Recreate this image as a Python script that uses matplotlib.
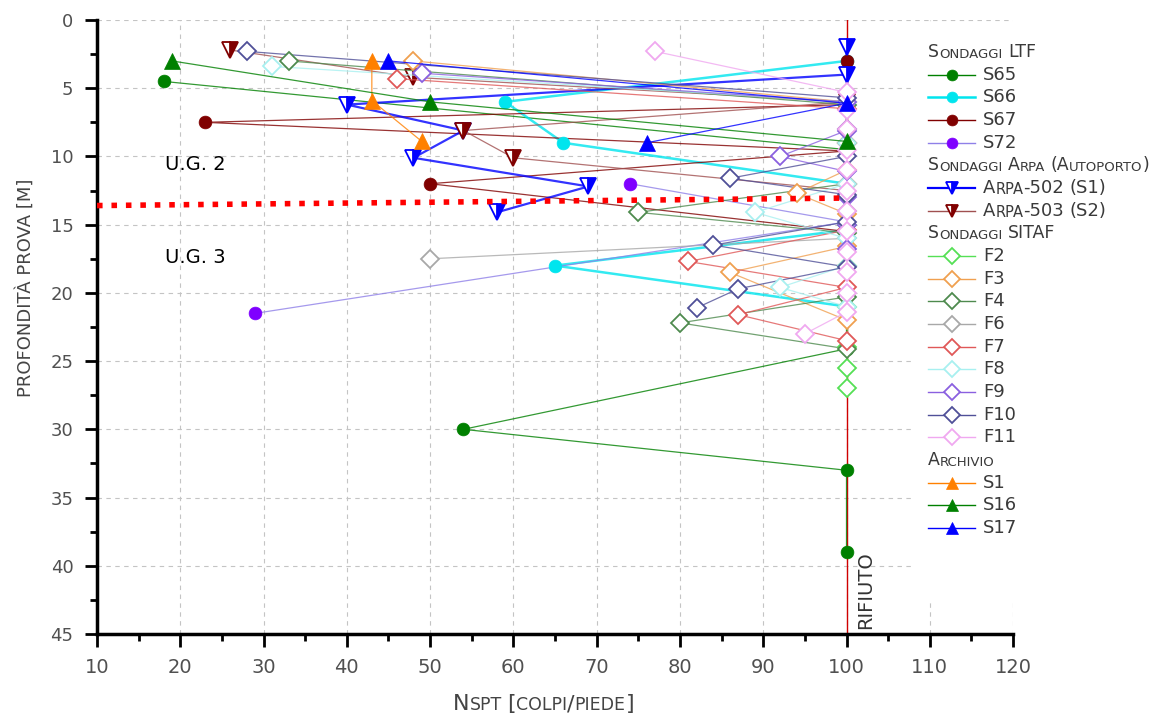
import matplotlib
matplotlib.use("Agg")
import matplotlib.pyplot as plt
from matplotlib.lines import Line2D
from matplotlib.patches import Rectangle
from matplotlib.text import Annotation
from matplotlib.ticker import MultipleLocator

plt.rcParams['font.family'] = ['DejaVu Sans']

# --- data: NSPT [colpi/piede] vs depth [m] ---
# Sondaggi LTF
s65_n = [18, 100, 100, 100, 100, 100, 100, 54, 100, 100]
s65_d = [4.5, 9.5, 12, 15, 18, 21, 24.1, 30, 33, 39]
s66_n = [100, 59, 66, 100, 100, 65, 100]
s66_d = [3, 6, 9, 12, 15.4, 18, 21]
s67_n = [100, 100, 23, 100, 50, 100]
s67_d = [3, 6.2, 7.5, 9.6, 12, 15.5]
s72_n = [74, 100, 29]
s72_d = [12, 14.8, 21.5]

# Sondaggi Arpa (Autoporto)
arpa502_n = [100, 100, 40, 54, 48, 69, 58]
arpa502_d = [2, 4, 6.2, 8.1, 10.1, 12.2, 14.1]
arpa503_n = [26, 48, 100, 54, 60, 100]
arpa503_d = [2.2, 4.2, 6, 8.1, 10.1, 12.5]

# Sondaggi SITAF
f2_n = [100, 100, 100, 100, 100, 100, 100]
f2_d = [12, 15, 18, 21, 24, 25.5, 27]
f3_n = [48, 100, 100, 100, 94, 100, 100, 86, 100]
f3_d = [3, 6, 9, 11, 12.7, 14.2, 16.6, 18.5, 22]
f4_n = [33, 100, 100, 100, 75, 100, 100, 100, 80, 100]
f4_d = [3, 6.2, 9, 12, 14.1, 15.6, 18, 20.3, 22.2, 24.1]
f6_n = [100, 100, 100, 100, 100, 50]
f6_d = [6, 9, 12, 14, 16, 17.5]
f7_n = [46, 100, 100, 100, 100, 81, 100, 87, 100]
f7_d = [4.3, 6.5, 9, 12, 15.4, 17.7, 19.6, 21.6, 23.5]
f8_n = [31, 100, 100, 100, 89, 100, 100, 92, 100]
f8_d = [3.4, 6, 9, 12, 14.1, 16, 18, 19.6, 21]
f9_n = [49, 100, 100, 92, 100, 100, 100, 100]
f9_d = [3.9, 6, 8.1, 10, 11.1, 13, 15, 16.8]
f10_n = [28, 100, 100, 100, 86, 100, 100, 84, 100, 87, 82]
f10_d = [2.3, 5.7, 8, 10, 11.6, 12.8, 14.8, 16.5, 18.1, 19.7, 21.1]
f11_n = [77, 100, 100, 100, 100, 100, 100, 100, 100, 100, 100, 100, 100, 95]
f11_d = [2.3, 5.3, 6.6, 8, 9.5, 11, 12.5, 14, 15.5, 17, 18.5, 20, 21.4, 23]

# Archivio
s1_n = [43, 43, 49]
s1_d = [3, 5.9, 8.9]
s16_n = [19, 50, 100]
s16_d = [3, 6, 8.9]
s17_n = [45, 100, 76]
s17_d = [3, 6.1, 9]

# refusal line and unit boundary
rifiuto_n = 100
ug_boundary_n = [10, 100]
ug_boundary_d = [13.6, 13.05]

groups = [
    ("Sondaggi LTF", [
        ("S65", s65_n, s65_d, dict(color='#008000', marker='o', lw=0.9, z=3)),
        ("S66", s66_n, s66_d, dict(color='#00E5EE', marker='o', lw=1.8, z=3)),
        ("S67", s67_n, s67_d, dict(color='#800000', marker='o', lw=0.9, z=3)),
        ("S72", s72_n, s72_d, dict(color='#7F00FF', marker='o', lw=0.9, z=3, lc='#8f80e8')),
    ]),
    ("Sondaggi Arpa (Autoporto)", [
        ("Arpa-502 (S1)", arpa502_n, arpa502_d, dict(color='#0000FF', marker='v', lw=1.6, z=3, half=True)),
        ("Arpa-503 (S2)", arpa503_n, arpa503_d, dict(color='#800000', marker='v', lw=0.9, z=3, half=True, lc='#a05050')),
    ]),
    ("Sondaggi SITAF", [
        ("F2", f2_n, f2_d, dict(color='#55E055', marker='D', lw=0.9, z=4)),
        ("F3", f3_n, f3_d, dict(color='#F0A050', marker='D', lw=0.9, z=4)),
        ("F4", f4_n, f4_d, dict(color='#4E8A4E', marker='D', lw=0.9, z=4)),
        ("F6", f6_n, f6_d, dict(color='#A8A8A8', marker='D', lw=0.9, z=4)),
        ("F7", f7_n, f7_d, dict(color='#E05858', marker='D', lw=0.9, z=4)),
        ("F8", f8_n, f8_d, dict(color='#A8F0F0', marker='D', lw=0.9, z=4)),
        ("F9", f9_n, f9_d, dict(color='#8A60E0', marker='D', lw=0.9, z=4)),
        ("F10", f10_n, f10_d, dict(color='#505098', marker='D', lw=0.9, z=4)),
        ("F11", f11_n, f11_d, dict(color='#F0A8F0', marker='D', lw=0.9, z=4)),
    ]),
    ("Archivio", [
        ("S1", s1_n, s1_d, dict(color='#FF8000', marker='^', lw=0.9, z=5)),
        ("S16", s16_n, s16_d, dict(color='#008000', marker='^', lw=0.9, z=5)),
        ("S17", s17_n, s17_d, dict(color='#0000FF', marker='^', lw=0.9, z=5)),
    ]),
]


def marker_kw(st, scale=1.0):
    kw = dict(marker=st['marker'], markeredgecolor=st['color'])
    if st['marker'] == 'D':
        kw.update(markerfacecolor='white', markeredgewidth=1.3, markersize=9 * scale)
    elif st.get('half'):
        kw.update(markerfacecolor=st['color'], fillstyle='right', markersize=11 * scale,
                  markerfacecoloralt='white', markeredgewidth=1.3)
    elif st['marker'] == '^':
        kw.update(markerfacecolor=st['color'], markeredgewidth=0.5, markersize=11 * scale)
    else:
        kw.update(markerfacecolor=st['color'], markeredgewidth=0.5, markersize=9.2 * scale)
    return kw


def smallcaps(fig, x, y, text, big, small, color='#3a3a3a'):
    prev = None
    for wi, word in enumerate(text.split(' ')):
        runs = []
        for c in word:
            low = c.islower()
            if runs and runs[-1][0] == low:
                runs[-1][1] += c
            else:
                runs.append([low, c])
        for ri, (low, chunk) in enumerate(runs):
            size = small if low else big
            gap = 4 if (ri == 0 and wi > 0) else 0
            if prev is None:
                t = fig.text(x, y, chunk.upper(), fontsize=size, va='bottom',
                             ha='left', color=color, zorder=6)
            else:
                t = Annotation(chunk.upper(), xy=(1, 0), xycoords=prev,
                               xytext=(gap, 0), textcoords='offset points',
                               fontsize=size, va='bottom', ha='left',
                               color=color, zorder=6)
                fig.add_artist(t)
            prev = t


fig = plt.figure(figsize=(11.69, 7.17), dpi=100)
ax = fig.add_axes([0.083, 0.1158, 0.7836, 0.8563])

ax.axvline(rifiuto_n, color='#D00000', lw=1.0, zorder=2.5)

for title, members in groups:
    for name, n, d, st in members:
        ax.plot(n, d, color=st.get('lc', st['color']), lw=st['lw'],
                alpha=0.8, zorder=st['z'], solid_joinstyle='round')
        ax.plot(n, d, ls='none', zorder=st['z'] + 0.1, **marker_kw(st))

ax.plot(ug_boundary_n, ug_boundary_d, color='#FF0000', lw=4.0,
        ls=(0, (1.0, 1.6)), dash_capstyle='butt', zorder=6)

ax.text(18.2, 10.6, "U.G. 2", fontsize=14, va='center', ha='left', color='black')
ax.text(18.2, 17.4, "U.G. 3", fontsize=14, va='center', ha='left', color='black')
ax.text(101.1, 44.6, "RIFIUTO", rotation=90, fontsize=14, va='bottom',
        ha='left', color='#333333')

ax.set_xlim(10, 120)
ax.set_ylim(45, 0)
ax.xaxis.set_major_locator(MultipleLocator(10))
ax.xaxis.set_minor_locator(MultipleLocator(5))
ax.yaxis.set_major_locator(MultipleLocator(5))
ax.yaxis.set_minor_locator(MultipleLocator(2.5))
ax.grid(True, which='major', ls=(0, (4, 4)), color='#c4c4c4', lw=0.8, zorder=0)
ax.set_axisbelow(True)
for side in ('top', 'right'):
    ax.spines[side].set_visible(False)
for side in ('left', 'bottom'):
    ax.spines[side].set_linewidth(2.5)
ax.tick_params(which='major', direction='out', length=9, width=2, colors='black',
               labelcolor='#505050', labelsize=13, pad=8)
ax.tick_params(which='minor', direction='out', length=5, width=2, colors='black')
for lab in ax.get_xticklabels():
    lab.set_fontsize(14)

fig.text(0.022, 1 - 288 / 717, "PROFONDITÀ PROVA [M]", rotation=90,
         va='center', ha='center', fontsize=13, color='#444444')
smallcaps(fig, 453 / 1169, 1 - 714 / 717, "Nspt [colpi/piede]", 16, 12.5, color='#444444')

# legend panel
fig.add_artist(Rectangle((915 / 1169, 1 - 600 / 717), 254 / 1169, 575 / 717,
                         transform=fig.transFigure, facecolor='white',
                         edgecolor='none', zorder=1))
row = 0
row_h = 22.67
hx0, hx1, tx = 928 / 1169, 975 / 1169, 983 / 1169
for title, members in groups:
    ypx = 52 + row * row_h
    smallcaps(fig, hx0, 1 - (ypx + 9) / 717, title, 12.5, 9.5)
    row += 1
    for name, n, d, st in members:
        ypx = 52 + row * row_h
        yf = 1 - ypx / 717
        fig.add_artist(Line2D([hx0, (hx0 + hx1) / 2, hx1], [yf, yf, yf],
                              transform=fig.transFigure, color=st.get('lc', st['color']),
                              lw=max(st['lw'], 1.0), markevery=[1], zorder=5,
                              **marker_kw(st, 0.85)))
        smallcaps(fig, tx, 1 - (ypx + 9) / 717, name, 13, 10.5)
        row += 1

fig.savefig("out.png", dpi=100)
